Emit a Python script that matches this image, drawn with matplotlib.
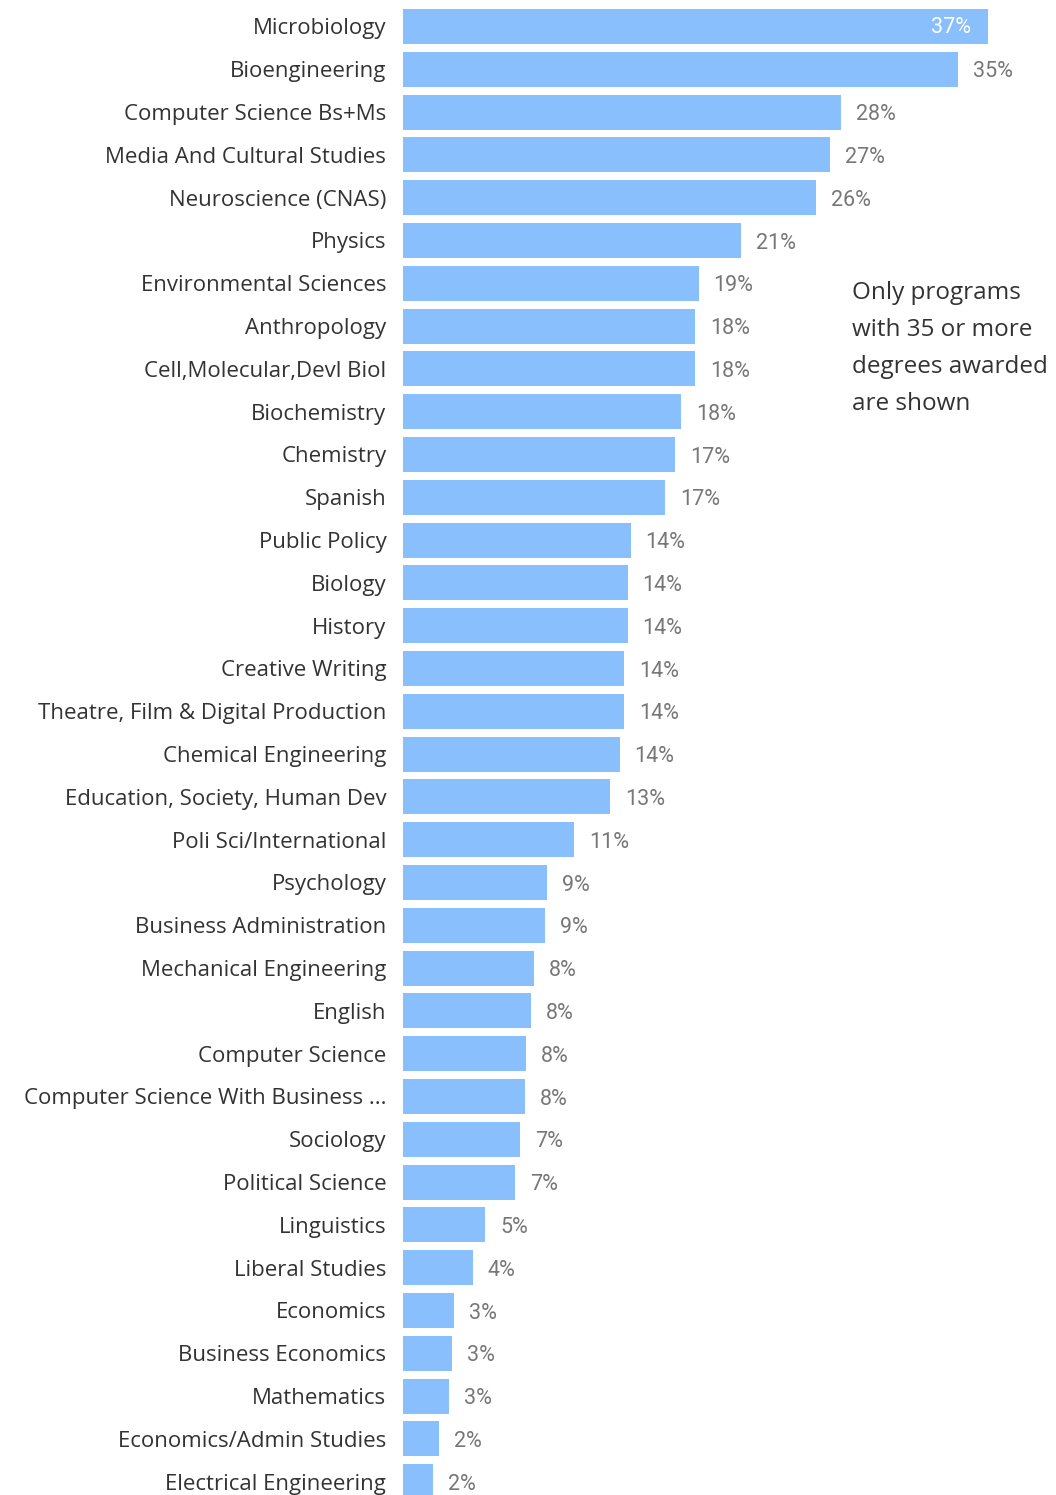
import numpy as np
import matplotlib.pyplot as plt

programs = [
    "Microbiology", "Bioengineering", "Computer Science Bs+Ms",
    "Media And Cultural Studies", "Neuroscience (CNAS)", "Physics",
    "Environmental Sciences", "Anthropology", "Cell,Molecular,Devl Biol",
    "Biochemistry", "Chemistry", "Spanish", "Public Policy", "Biology",
    "History", "Creative Writing", "Theatre, Film & Digital Production",
    "Chemical Engineering", "Education, Society, Human Dev",
    "Poli Sci/International", "Psychology", "Business Administration",
    "Mechanical Engineering", "English", "Computer Science",
    "Computer Science With Business ...", "Sociology", "Political Science",
    "Linguistics", "Liberal Studies", "Economics", "Business Economics",
    "Mathematics", "Economics/Admin Studies", "Electrical Engineering",
]
pct = [37.0, 35.1, 27.7, 27.0, 26.1, 21.4, 18.7, 18.5, 18.5, 17.6, 17.2,
       16.6, 14.4, 14.2, 14.2, 14.0, 14.0, 13.7, 13.1, 10.8, 9.1, 9.0, 8.3,
       8.1, 7.8, 7.7, 7.4, 7.1, 5.2, 4.4, 3.2, 3.1, 2.9, 2.3, 1.9]
note = "Only programs\nwith 35 or more\ndegrees awarded\nare shown"

W, H = 1056, 1495
px_per_pct = 15.81
step = 42.8
first_c = 26.5
left = 403

fig = plt.figure(figsize=(W / 100, H / 100), dpi=100)
ax = fig.add_axes([left / W, 0, (W - left) / W, 1])
y = np.arange(len(programs))
ax.barh(y, pct, height=0.82, color="#88BFFC")
ax.set_xlim(0, (W - left) / px_per_pct)
ax.set_ylim((H - first_c) / step, -first_c / step)
ax.set_yticks(y)
ax.set_yticklabels(programs, fontsize=16, color="#333333", family="Open Sans")
ax.tick_params(axis="y", length=0, pad=12)
ax.set_xticks([])
for s in ax.spines.values():
    s.set_visible(False)

for i, v in enumerate(pct):
    lab = f"{round(v):d}%"
    if i == 0:
        ax.text(v - 1.05, i + 0.03, lab, ha="right", va="center", fontsize=15.5,
                color="white", family="Roboto")
    else:
        ax.text(v + 0.95, i + 0.06, lab, ha="left", va="center", fontsize=15.5,
                color="#777777", family="Roboto")

fig.text(852 / W, 1 - 281 / H, note, ha="left", va="top", fontsize=17.5,
         color="#333333", family="Open Sans", linespacing=1.72)

fig.savefig("out.png", dpi=100)
